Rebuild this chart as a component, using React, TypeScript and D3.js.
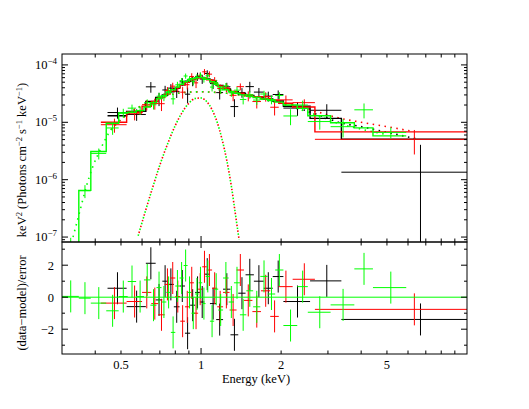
import React from "react";
import * as d3 from "d3";

// bin edges (keV), model and data (keV^2 Photons cm^-2 s^-1 keV^-1), residuals
const blackEdges = [0.445, 0.525, 0.62, 0.675, 0.715, 0.75, 0.79, 0.83, 0.87, 0.91, 0.95, 0.99, 1.03, 1.08, 1.14, 1.21, 1.29, 1.38, 1.47, 1.58, 1.72, 1.86, 2.04, 2.57, 3.37, 10.0];
const blackModel = [1.3e-5, 1.55e-5, 2.3e-5, 2.7e-5, 3.0e-5, 3.4e-5, 3.9e-5, 4.5e-5, 5.2e-5, 5.7e-5, 6.0e-5, 6.0e-5, 5.7e-5, 5.1e-5, 4.4e-5, 3.8e-5, 3.4e-5, 3.15e-5, 2.95e-5, 2.75e-5, 2.55e-5, 2.35e-5, 1.9e-5, 1.17e-5, 5.1e-6];
const blackFlux = [1.48e-5, 1.37e-5, 4.15e-5, 2.59e-5, 3.66e-5, 3.94e-5, 3.43e-5, 5.07e-5, 3.09e-5, 5.22e-5, 6.31e-5, 5.69e-5, 7.1e-5, 4.73e-5, 3.29e-5, 4.16e-5, 1.88e-5, 3.31e-5, 4.19e-5, 3.36e-5, 2.86e-5, 3.05e-5, 1.77e-5, 1.62e-5, 1.35e-6];
const blackErr = [3.25e-6, 3.1e-6, 8.74e-6, 6.75e-6, 6.6e-6, 6.8e-6, 7.8e-6, 8.1e-6, 9.36e-6, 9.69e-6, 1.02e-5, 1.02e-5, 9.69e-6, 9.18e-6, 7.92e-6, 7.22e-6, 6.46e-6, 6.3e-6, 8.85e-6, 6.05e-6, 5.61e-6, 5.41e-6, 4.75e-6, 4.45e-6, 2.7e-6];
const blackResid = [0.56, -0.59, 2.12, -0.17, 1.0, 0.8, -0.6, 0.7, -2.25, -0.5, 0.3, -0.3, 1.44, -0.4, -1.4, 0.5, -2.35, 0.25, 1.4, 1.0, 0.56, 1.29, -0.27, 1.02, -1.39];

const redEdges = [0.42, 0.525, 0.6, 0.65, 0.69, 0.73, 0.765, 0.8, 0.835, 0.87, 0.905, 0.94, 0.975, 1.01, 1.05, 1.1, 1.15, 1.21, 1.28, 1.36, 1.45, 1.56, 1.68, 1.82, 1.96, 2.21, 2.68, 10.0];
const redModel = [1.0e-5, 1.5e-5, 1.9e-5, 2.3e-5, 2.7e-5, 3.1e-5, 3.5e-5, 4.0e-5, 4.5e-5, 5.0e-5, 5.5e-5, 5.8e-5, 6.0e-5, 5.9e-5, 5.5e-5, 4.9e-5, 4.3e-5, 3.8e-5, 3.45e-5, 3.2e-5, 3.0e-5, 2.8e-5, 2.6e-5, 2.45e-5, 2.15e-5, 1.85e-5, 6.8e-6];
const redFlux = [9.08e-6, 1.41e-5, 2.03e-5, 2.12e-5, 2.11e-5, 3.55e-5, 4.26e-5, 4.03e-5, 3.35e-5, 4.52e-5, 6.29e-5, 4.87e-5, 6.45e-5, 7.58e-5, 6.9e-5, 5.34e-5, 3.89e-5, 3.99e-5, 2.95e-5, 4.18e-5, 2.89e-5, 2.3e-5, 2.81e-5, 1.83e-5, 2.46e-5, 2.2e-5, 5.05e-6];
const redErr = [2.5e-6, 3.3e-6, 4.18e-6, 4.6e-6, 5.4e-6, 5.58e-6, 6.3e-6, 6.8e-6, 7.65e-6, 8.0e-6, 8.8e-6, 9.28e-6, 9.0e-6, 8.85e-6, 8.25e-6, 7.84e-6, 6.88e-6, 6.46e-6, 6.21e-6, 5.76e-6, 5.7e-6, 5.6e-6, 5.2e-6, 5.15e-6, 4.73e-6, 3.15e-6, 2.3e-6];
const redResid = [-0.37, -0.27, 0.3, -0.4, -1.1, 0.8, 1.2, 0.04, -1.5, -0.6, 0.9, -1.0, 0.5, 1.9, 1.7, 0.56, -0.6, 0.3, -0.8, 1.7, -0.2, -0.9, 0.4, -1.2, 0.66, 1.12, -0.76];

const greenEdges = [0.3, 0.347, 0.385, 0.44, 0.49, 0.53, 0.57, 0.61, 0.645, 0.68, 0.71, 0.74, 0.77, 0.8, 0.83, 0.86, 0.89, 0.92, 0.95, 0.98, 1.01, 1.04, 1.08, 1.12, 1.16, 1.21, 1.27, 1.33, 1.4, 1.48, 1.57, 1.67, 1.78, 1.9, 2.04, 2.3, 2.52, 3.07, 3.77, 4.43, 5.91];
const greenModel = [5.0e-8, 6.5e-7, 3.1e-6, 9.6e-6, 1.45e-5, 1.5e-5, 1.6e-5, 1.85e-5, 2.2e-5, 2.6e-5, 2.9e-5, 3.3e-5, 3.7e-5, 4.1e-5, 4.6e-5, 5.1e-5, 5.5e-5, 5.8e-5, 6.0e-5, 6.0e-5, 5.9e-5, 5.6e-5, 5.1e-5, 4.6e-5, 4.1e-5, 3.7e-5, 3.4e-5, 3.2e-5, 3.0e-5, 2.85e-5, 2.7e-5, 2.55e-5, 2.4e-5, 2.25e-5, 2.0e-5, 1.75e-5, 1.3e-5, 9.8e-6, 8.0e-6, 5.8e-6];
const greenFlux = [5.2e-8, 6.4e-7, 2.87e-6, 7.97e-6, 1.46e-5, 1.765e-5, 1.61e-5, 2.19e-5, 2.02e-5, 2.85e-5, 2.77e-5, 3.45e-5, 2.56e-5, 4.5e-5, 5.32e-5, 6.41e-5, 5.7e-5, 5.1e-5, 6.14e-5, 6.65e-5, 5.62e-5, 6.47e-5, 4.11e-5, 4.9e-5, 3.67e-5, 4.32e-5, 3.26e-5, 3.63e-5, 2.5e-5, 3.03e-5, 2.44e-5, 3.11e-5, 2.49e-5, 2.94e-5, 1.29e-5, 2.0e-5, 1.03e-5, 8.39e-6, 1.65e-5, 6.67e-6];
const greenErr = [4.5e-8, 1.63e-7, 6.2e-7, 1.92e-6, 2.61e-6, 2.7e-6, 2.72e-6, 3.15e-6, 3.52e-6, 4.16e-6, 4.35e-6, 4.95e-6, 5.18e-6, 5.74e-6, 5.98e-6, 6.63e-6, 6.6e-6, 6.96e-6, 7.2e-6, 7.2e-6, 7.08e-6, 6.72e-6, 6.63e-6, 5.98e-6, 5.33e-6, 5.18e-6, 4.76e-6, 4.8e-6, 4.5e-6, 4.56e-6, 4.32e-6, 4.34e-6, 4.32e-6, 4.05e-6, 4.0e-6, 3.85e-6, 2.86e-6, 2.94e-6, 4.8e-6, 1.45e-6];
const greenResid = [0.05, -0.06, -0.37, -0.85, 0.04, 0.98, 0.04, 1.08, -0.5, 0.6, -0.3, 0.3, -2.2, 0.7, 1.2, 1.98, 0.3, -1.0, 0.2, 0.9, -0.4, 1.3, -1.5, 0.5, -0.8, 1.2, -0.3, 0.9, -1.1, 0.4, -0.6, 1.3, 0.2, 1.7, -1.77, 0.66, -0.94, -0.48, 1.77, 0.6];

// model components (dotted)
const contGreenE = [0.33, 0.35, 0.37, 0.39, 0.42, 0.45, 0.48, 0.52, 0.58, 0.65, 0.72, 0.8, 0.9, 1.0, 1.1, 1.25, 1.5, 1.8, 2.2, 2.7, 3.3, 4.0, 5.0];
const contGreen = [1.0e-7, 2.8e-7, 7.5e-7, 1.6e-6, 3.5e-6, 6.5e-6, 9.5e-6, 1.3e-5, 1.8e-5, 2.3e-5, 2.8e-5, 3.15e-5, 3.35e-5, 3.4e-5, 3.35e-5, 3.2e-5, 2.85e-5, 2.4e-5, 1.85e-5, 1.35e-5, 9.5e-6, 7.6e-6, 6.1e-6];
const contRedE = [0.45, 0.52, 0.58, 0.65, 0.72, 0.8, 0.9, 1.0, 1.1, 1.25, 1.5, 1.8, 2.2, 2.7, 3.2, 4.0, 5.0, 6.3];
const contRed = [6.8e-6, 1.3e-5, 1.8e-5, 2.3e-5, 2.8e-5, 3.15e-5, 3.35e-5, 3.4e-5, 3.35e-5, 3.2e-5, 2.85e-5, 2.45e-5, 2.0e-5, 1.55e-5, 1.23e-5, 1.0e-5, 8.4e-6, 6.9e-6];
const contBlackE = [2.2, 2.7, 3.35, 4.0, 5.0, 6.4];
const contBlack = [1.9e-5, 1.4e-5, 9.8e-6, 8.4e-6, 6.7e-6, 5.2e-6];
const gaussE = [0.58, 0.62, 0.66, 0.7, 0.75, 0.8, 0.85, 0.9, 0.95, 1.0, 1.05, 1.1, 1.15, 1.2, 1.25, 1.3, 1.35, 1.39];
const gaussF = [1.05e-7, 3.0e-7, 7.7e-7, 1.8e-6, 4.3e-6, 8.8e-6, 1.5e-5, 2.15e-5, 2.6e-5, 2.65e-5, 2.3e-5, 1.65e-5, 1.0e-5, 5.0e-6, 2.15e-6, 7.7e-7, 2.3e-7, 9e-8];

const xLabelTicks = [0.5, 1, 2, 5];
const resMajor = [-2, 0, 2];
const resMinor = [-3, -1, 1, 3];

const L = 62, R = 467, T = 54, MID = 242, B = 354;
const FONT = "'Liberation Serif', 'Times New Roman', 'DejaVu Serif', serif";

const x = d3.scaleLog().domain([0.3, 10]).range([L, R]);
const yT = d3.scaleLog().domain([8.2e-8, 1.55e-4]).range([MID, T]);
const yB = d3.scaleLinear().domain([-3.55, 3.45]).range([B, MID]);

const stepLine = d3.line<[number, number]>().x(d => x(d[0])).y(d => yT(d[1])).curve(d3.curveStepAfter);
const smooth = d3.line<[number, number]>().x(d => x(d[0])).y(d => yT(d[1])).curve(d3.curveMonotoneX);

function Series({ edges, model, flux, err, resid, color }: any) {
  const n = model.length;
  const pts: [number, number][] = model.map((m: number, i: number) => [edges[i], m]);
  pts.push([edges[n], model[n - 1]]);
  return (
    <g stroke={color} fill="none">
      <g clipPath="url(#topClip)">
        <path d={stepLine(pts) || ""} strokeWidth={1.4} />
        {model.map((_: number, i: number) => {
          const mid = (edges[i] + edges[i + 1]) / 2;
          return (
            <g key={i} strokeWidth={1}>
              <line x1={x(edges[i])} x2={x(edges[i + 1])} y1={yT(flux[i])} y2={yT(flux[i])} />
              <line x1={x(mid)} x2={x(mid)} y1={yT(Math.max(flux[i] - err[i], 1e-9))} y2={yT(flux[i] + err[i])} />
            </g>
          );
        })}
      </g>
      <g clipPath="url(#botClip)" strokeWidth={1}>
        {resid.map((r: number, i: number) => {
          const mid = (edges[i] + edges[i + 1]) / 2;
          return (
            <g key={i}>
              <line x1={x(edges[i])} x2={x(edges[i + 1])} y1={yB(r)} y2={yB(r)} />
              <line x1={x(mid)} x2={x(mid)} y1={yB(r - 1)} y2={yB(r + 1)} />
            </g>
          );
        })}
      </g>
    </g>
  );
}

function Dotted({ es, vs, color, offset }: any) {
  const pts: [number, number][] = es.map((e: number, i: number) => [e, vs[i]]);
  return (
    <path d={smooth(pts) || ""} stroke={color} fill="none" strokeWidth={1.6}
      strokeDasharray="1.5 4.5" strokeDashoffset={offset} clipPath="url(#topClip)" />
  );
}

export default function App() {
  const xTicks = x.ticks().filter(v => v > 0.3 && v < 10);
  const yTicks = yT.ticks();
  const isDecade = (v: number) => Math.abs(Math.log10(v) - Math.round(Math.log10(v))) < 1e-6;
  const decades = yTicks.filter(isDecade);

  return (
    <svg width={529} height={409} style={{ position: "absolute", left: 0, top: 0, fontFamily: FONT }}>
      <defs>
        <clipPath id="topClip"><rect x={L} y={T} width={R - L} height={MID - T} /></clipPath>
        <clipPath id="botClip"><rect x={L} y={MID} width={R - L} height={B - MID} /></clipPath>
      </defs>

      <Dotted es={contBlackE} vs={contBlack} color="#000" offset={0} />
      <Dotted es={contRedE} vs={contRed} color="#ff0000" offset={3} />
      <Dotted es={contGreenE} vs={contGreen} color="#00ff00" offset={0} />
      <Dotted es={gaussE} vs={gaussF} color="#00ff00" offset={0} />
      <Dotted es={gaussE} vs={gaussF} color="#ff0000" offset={3} />

      <Series edges={blackEdges} model={blackModel} flux={blackFlux} err={blackErr} resid={blackResid} color="#000" />
      <Series edges={redEdges} model={redModel} flux={redFlux} err={redErr} resid={redResid} color="#ff0000" />
      <Series edges={greenEdges} model={greenModel} flux={greenFlux} err={greenErr} resid={greenResid} color="#00ff00" />

      <line x1={L} x2={R} y1={yB(0)} y2={yB(0)} stroke="#00ff00" strokeWidth={1} />

      {/* frames */}
      <g stroke="#000" fill="none" strokeWidth={1}>
        <rect x={L} y={T} width={R - L} height={MID - T} />
        <rect x={L} y={MID} width={R - L} height={B - MID} />
        {xTicks.map(v => {
          const len = Math.abs(v - 1) < 1e-9 ? 6 : 3.5;
          const px = x(v);
          return (
            <g key={v}>
              <line x1={px} x2={px} y1={T} y2={T + len} />
              <line x1={px} x2={px} y1={MID - len} y2={MID + len} />
              <line x1={px} x2={px} y1={B} y2={B - len} />
            </g>
          );
        })}
        {yTicks.map(v => {
          const len = isDecade(v) ? 6 : 3;
          const py = yT(v);
          return (
            <g key={v}>
              <line x1={L} x2={L + len} y1={py} y2={py} />
              <line x1={R} x2={R - len} y1={py} y2={py} />
            </g>
          );
        })}
        {resMajor.concat(resMinor).map(v => {
          const len = resMajor.includes(v) ? 6 : 3;
          const py = yB(v);
          return (
            <g key={v}>
              <line x1={L} x2={L + len} y1={py} y2={py} />
              <line x1={R} x2={R - len} y1={py} y2={py} />
            </g>
          );
        })}
      </g>

      {/* tick labels */}
      <g fill="#000" fontSize={12.5} style={{ fontFamily: FONT }}>
        {decades.map(v => (
          <text key={v} x={57} y={yT(v) + 4} textAnchor="end">
            10<tspan dy={-5} fontSize={9}>{"\u2212" + Math.round(-Math.log10(v))}</tspan>
          </text>
        ))}
        {resMajor.map(v => (
          <text key={v} x={54} y={yB(v) + 4.5} textAnchor="end">{v < 0 ? "\u2212" + -v : String(v)}</text>
        ))}
        {xLabelTicks.map(v => (
          <text key={v} x={x(v)} y={369} textAnchor="middle">{String(v)}</text>
        ))}
        <text x={256} y={383} textAnchor="middle">Energy (keV)</text>
        <text transform="translate(26,160) rotate(-90)" textAnchor="middle">
          keV<tspan dy={-4} fontSize={8.5}>2</tspan>
          <tspan dy={4}> (Photons cm</tspan>
          <tspan dy={-4} fontSize={8.5}>{"\u22122"}</tspan>
          <tspan dy={4}> s</tspan>
          <tspan dy={-4} fontSize={8.5}>{"\u22121"}</tspan>
          <tspan dy={4}> keV</tspan>
          <tspan dy={-4} fontSize={8.5}>{"\u22121"}</tspan>
          <tspan dy={4}>)</tspan>
        </text>
        <text transform="translate(26,303) rotate(-90)" textAnchor="middle">(data{"\u2212"}model)/error</text>
      </g>
    </svg>
  );
}
